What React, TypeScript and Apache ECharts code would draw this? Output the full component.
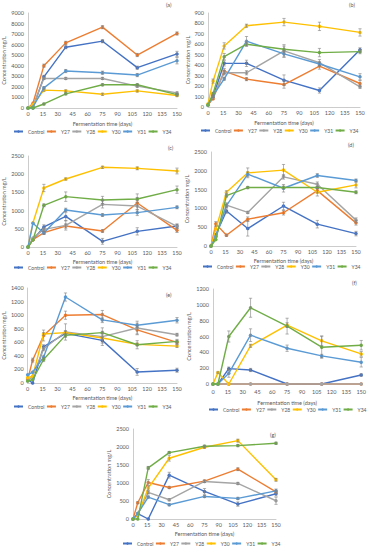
import React, { useEffect, useRef } from "react";
import * as echarts from "echarts";

// Sampling days (x values)
const days = [0, 5, 16, 38, 75, 110, 150];
const seriesNames = ["Control", "Y27", "Y28", "Y30", "Y31", "Y34"];
const colors = ["#4472C4", "#ED7D31", "#A5A5A5", "#FFC000", "#5B9BD5", "#70AD47"];

// Panel (a)
const aControl = [0, 0, 2950, 5760, 6330, 3820, 5120];
const aY27 = [0, 450, 4010, 6170, 7660, 5020, 7060];
const aY28 = [0, 200, 2800, 2800, 2800, 2070, 1430];
const aY30 = [0, 300, 1690, 1620, 1300, 1620, 1180];
const aY31 = [0, 100, 1910, 3500, 3340, 3120, 4480];
const aY34 = [0, 0, 380, 1340, 2200, 2200, 1270];

// Panel (b)
const bControl = [20, 100, 418, 418, 257, 158, 547];
const bY27 = [20, 80, 344, 267, 215, 392, 225];
const bY28 = [20, 100, 328, 328, 537, 424, 193];
const bY30 = [30, 248, 585, 778, 813, 772, 714];
const bY31 = [20, 110, 270, 630, 508, 412, 289];
const bY34 = [20, 130, 482, 601, 553, 521, 530];

// Panel (c)
const cControl = [0, 200, 550, 840, 156, 430, 577];
const cY27 = [0, 200, 394, 577, 440, 1209, 458];
const cY28 = [0, 250, 485, 595, 1172, 1126, 568];
const cY30 = [0, 668, 1621, 1868, 2189, 2161, 2088];
const cY31 = [0, 650, 385, 1016, 879, 943, 1090];
const cY34 = [0, 201, 1145, 1383, 1291, 1319, 1575];

// Panel (d)
const dControl = [0, 300, 929, 464, 1063, 580, 330];
const dY27 = [0, 589, 286, 714, 884, 1473, 616];
const dY28 = [0, 250, 1089, 893, 1839, 1643, 688];
const dY30 = [0, 450, 1429, 1946, 2018, 1429, 1625];
const dY31 = [0, 250, 1071, 1911, 1536, 1875, 1741];
const dY34 = [0, 170, 1339, 1554, 1554, 1554, 1429];

// Panel (e)
const eControl = [50, 0, 534, 732, 628, 163, 188];
const eY27 = [50, 336, 700, 999, 1009, 782, 599];
const eY28 = [30, 100, 505, 752, 683, 811, 712];
const eY30 = [80, 100, 722, 742, 663, 569, 544];
const eY31 = [120, 160, 380, 1267, 930, 851, 925];
const eY34 = [30, 50, 346, 702, 742, 564, 613];

// Panel (f)
const fControl = [0, 0, 194, 177, 0, 0, 114];
const fY27 = [0, 0, 0, 0, 0, 0, 0];
const fY28 = [0, 0, 0, 0, 0, 0, 0];
const fY30 = [0, 144, 0, 482, 744, 545, 380];
const fY31 = [0, 0, 135, 617, 452, 355, 275];
const fY34 = [0, 0, 600, 963, 731, 465, 490];

// Panel (g)
const gControl = [0, 150, 0, 1218, 766, 415, 700];
const gY27 = [0, 452, 1015, 876, 1052, 1384, 755];
const gY28 = [0, 150, 738, 535, 1043, 987, 507];
const gY30 = [0, 100, 858, 1688, 1993, 2177, 1088];
const gY31 = [0, 150, 609, 397, 627, 572, 783];
const gY34 = [0, 0, 1420, 1845, 2021, 2039, 2104];

// Error bar half-widths (rows: Control, Y27, Y28, Y30, Y31, Y34)
const errA = [
  [0, 0, 150, 150, 150, 150, 250],
  [0, 0, 150, 150, 150, 150, 150],
  [0, 0, 100, 100, 100, 100, 100],
  [0, 0, 100, 100, 100, 100, 100],
  [0, 0, 100, 150, 150, 150, 300],
  [0, 0, 80, 100, 100, 100, 100],
];
const errB = [
  [0, 10, 25, 30, 50, 25, 20],
  [0, 10, 25, 15, 35, 30, 30],
  [0, 10, 20, 20, 60, 30, 15],
  [0, 20, 30, 15, 35, 40, 35],
  [0, 10, 15, 45, 30, 20, 30],
  [0, 10, 30, 20, 30, 40, 20],
];
const errC = [
  [0, 0, 60, 120, 80, 100, 60],
  [0, 0, 40, 60, 40, 250, 60],
  [0, 0, 40, 130, 100, 100, 50],
  [0, 0, 100, 30, 30, 40, 80],
  [0, 0, 40, 50, 40, 80, 40],
  [0, 0, 40, 130, 100, 40, 100],
];
const errD = [
  [0, 0, 60, 200, 100, 100, 60],
  [0, 60, 30, 60, 60, 60, 60],
  [0, 0, 60, 30, 60, 60, 60],
  [0, 0, 40, 130, 150, 100, 80],
  [0, 0, 40, 60, 100, 50, 40],
  [0, 0, 40, 30, 40, 30, 40],
];
const errE = [
  [0, 0, 30, 40, 40, 50, 30],
  [0, 30, 80, 60, 60, 60, 30],
  [0, 0, 30, 120, 130, 100, 20],
  [0, 0, 20, 20, 20, 20, 20],
  [0, 0, 30, 60, 40, 30, 40],
  [0, 0, 30, 30, 20, 60, 30],
];
const errF = [
  [0, 0, 20, 20, 0, 0, 15],
  [0, 0, 0, 0, 0, 0, 0],
  [0, 0, 0, 0, 0, 0, 0],
  [0, 10, 0, 20, 30, 60, 30],
  [0, 0, 50, 80, 40, 20, 60],
  [0, 0, 70, 120, 100, 140, 60],
];
const errG = [
  [0, 0, 0, 80, 80, 60, 60],
  [0, 30, 80, 30, 30, 40, 40],
  [0, 0, 40, 30, 30, 30, 100],
  [0, 0, 60, 80, 30, 40, 40],
  [0, 0, 30, 30, 30, 30, 50],
  [0, 0, 40, 30, 30, 30, 30],
];

const panelLabels = ["(a)", "(b)", "(c)", "(d)", "(e)", "(f)", "(g)"];
const yMax = [9000, 900, 2500, 2500, 1400, 1200, 2500];
const yStep = [1000, 100, 500, 500, 200, 200, 500];
const panelData = [
  [aControl, aY27, aY28, aY30, aY31, aY34],
  [bControl, bY27, bY28, bY30, bY31, bY34],
  [cControl, cY27, cY28, cY30, cY31, cY34],
  [dControl, dY27, dY28, dY30, dY31, dY34],
  [eControl, eY27, eY28, eY30, eY31, eY34],
  [fControl, fY27, fY28, fY30, fY31, fY34],
  [gControl, gY27, gY28, gY30, gY31, gY34],
];
const panelErr = [errA, errB, errC, errD, errE, errF, errG];

// Layout (page pixels)
const layout = [
  { left: 28, top: 13, w: 149, h: 95, lblM: 3, nameGap: 12.5, yNameGap: 19, legL: 13, legY: 132, tagX: 170, tagY: 5 },
  { left: 208, top: 13, w: 152, h: 94, lblM: 3, nameGap: 13, yNameGap: 14, legL: 200, legY: 131, tagX: 353, tagY: 5 },
  { left: 28, top: 156, w: 149, h: 91, lblM: 3, nameGap: 12, yNameGap: 19, legL: 13, legY: 268, tagX: 172, tagY: 148 },
  { left: 211, top: 152, w: 145, h: 94, lblM: 3, nameGap: 11.5, yNameGap: 15, legL: 202, legY: 267, tagX: 352, tagY: 145 },
  { left: 27, top: 288, w: 150, h: 95, lblM: 3, nameGap: 11.5, yNameGap: 18, legL: 13, legY: 407, tagX: 170, tagY: 295 },
  { left: 213, top: 289, w: 150, h: 95, lblM: 5, nameGap: 16, yNameGap: 13, legL: 208, legY: 410, tagX: 356, tagY: 283 },
  { left: 133, top: 429, w: 143, h: 90, lblM: 3, nameGap: 11.5, yNameGap: 15, legL: 122, legY: 544, tagX: 274, tagY: 435 },
];

const FONT = "Lato, 'Liberation Sans', sans-serif";
const FS = 5.5;
const LFS = 5;
const TXT = "#595959";

function buildOption() {
  const grid: any[] = [];
  const xAxis: any[] = [];
  const yAxis: any[] = [];
  const series: any[] = [];
  const legend: any[] = [];
  const graphic: any[] = [];

  layout.forEach((L, i) => {
    grid.push({ left: L.left, top: L.top, width: L.w, height: L.h, containLabel: false });
    xAxis.push({
      type: "value",
      gridIndex: i,
      min: 0,
      max: 150,
      interval: 15,
      name: "Fermentation time (days)",
      nameLocation: "middle",
      nameGap: L.nameGap,
      nameTextStyle: { fontSize: FS, color: TXT, fontFamily: FONT },
      axisLine: { show: true, lineStyle: { color: "#BFBFBF", width: 0.8 } },
      axisTick: { show: false },
      splitLine: { show: false },
      axisLabel: { fontSize: FS, color: TXT, fontFamily: FONT, margin: L.lblM, formatter: (v: number) => String(v) },
    });
    yAxis.push({
      type: "value",
      gridIndex: i,
      min: 0,
      max: yMax[i],
      interval: yStep[i],
      name: "Concentration mg/L",
      nameLocation: "middle",
      nameRotate: 90,
      nameGap: L.yNameGap,
      nameTextStyle: { fontSize: FS, color: TXT, fontFamily: FONT },
      axisLine: { show: true, lineStyle: { color: "#BFBFBF", width: 0.8 } },
      axisTick: { show: false },
      splitLine: { show: false },
      axisLabel: { fontSize: FS, color: TXT, fontFamily: FONT, margin: 4, formatter: (v: number) => String(v) },
    });
    const errData: any[] = [];
    panelData[i].forEach((vals, k) => {
      series.push({
        type: "line",
        name: seriesNames[k],
        xAxisIndex: i,
        yAxisIndex: i,
        data: days.map((d, j) => [d, vals[j]]),
        symbol: "circle",
        symbolSize: 3.5,
        lineStyle: { width: 1.4, color: colors[k] },
        itemStyle: { color: colors[k] },
        z: 2 + k,
      });
      days.forEach((d, j) => {
        const e = panelErr[i][k][j];
        if (e > 0) errData.push([d, Math.max(0, vals[j] - e), vals[j] + e]);
      });
    });
    series.push({
      type: "custom",
      name: "err" + i,
      xAxisIndex: i,
      yAxisIndex: i,
      z: 10,
      silent: true,
      data: errData,
      renderItem: (params: any, api: any) => {
        const x = api.value(0);
        const lo = api.coord([x, api.value(1)]);
        const hi = api.coord([x, api.value(2)]);
        const cw = 1.6;
        const st = { stroke: "#7F7F7F", lineWidth: 0.6 };
        return {
          type: "group",
          children: [
            { type: "line", shape: { x1: lo[0], y1: lo[1], x2: hi[0], y2: hi[1] }, style: st },
            { type: "line", shape: { x1: lo[0] - cw, y1: lo[1], x2: lo[0] + cw, y2: lo[1] }, style: st },
            { type: "line", shape: { x1: hi[0] - cw, y1: hi[1], x2: hi[0] + cw, y2: hi[1] }, style: st },
          ],
        };
      },
    });
    legend.push({
      data: seriesNames,
      left: L.legL,
      top: L.legY - 3,
      width: 400,
      itemWidth: 9,
      itemHeight: 3,
      itemGap: 1.5,
      padding: 0,
      textStyle: { fontSize: LFS, color: TXT, fontFamily: FONT },
    });
    graphic.push({
      type: "text",
      left: L.tagX - 4,
      top: L.tagY - 3,
      style: { text: panelLabels[i], fontSize: FS, fill: TXT, fontFamily: FONT },
    });
  });

  return {
    animation: false,
    backgroundColor: "#ffffff",
    color: colors,
    grid,
    xAxis,
    yAxis,
    series,
    legend,
    graphic,
  };
}

export default function App() {
  const ref = useRef<HTMLDivElement>(null);
  useEffect(() => {
    if (!ref.current) return;
    const chart = echarts.init(ref.current, undefined, { renderer: "svg" });
    chart.setOption(buildOption());
    return () => chart.dispose();
  }, []);
  return (
    <div
      ref={ref}
      style={{ position: "absolute", left: 0, top: 0, width: 369, height: 550, background: "#fff" }}
    />
  );
}
